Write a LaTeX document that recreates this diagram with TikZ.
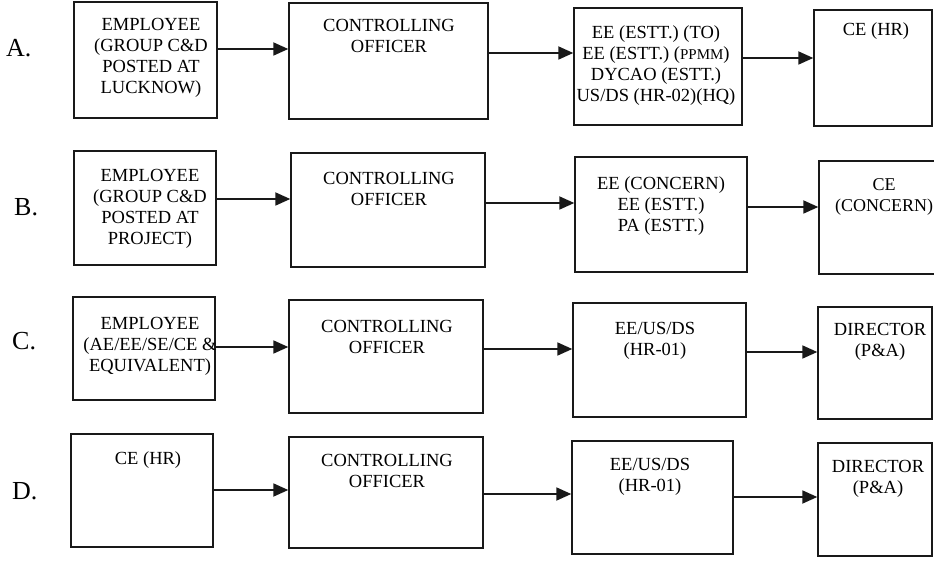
\documentclass[tikz,border=0pt]{standalone}
\usepackage{fontspec}
\setmainfont{Liberation Serif}
\usetikzlibrary{fit,arrows.meta}
\begin{document}
\begin{tikzpicture}[x=1pt,y=-1pt,
  box/.style={draw=black!90, line width=1.4pt, inner sep=0pt},
  txt/.style={align=center, inner sep=0pt, anchor=north, font=\fontsize{18.5}{21}\selectfont},
  lbl/.style={inner sep=0pt, anchor=base west, font=\fontsize{26}{26}\selectfont},
  arr/.style={line width=1.8pt, draw=black!90, -{Triangle[length=15pt,width=13pt]}}]
\useasboundingbox (0,0) rectangle (934,561);
\clip (0,0) rectangle (934,561);
\fill[white] (0,0) rectangle (934,561);
% row labels
\node[lbl] (la) at (6,57) {A.};
\node[lbl] (lb) at (14,216) {B.};
\node[lbl] (lc) at (12,349) {C.};
\node[lbl] (ld) at (12,499) {D.};
% row A
\node[box, fit={(74,2)(217,118)}] (A1) {};
\node[box, fit={(289,3)(488,119)}] (A2) {};
\node[box, fit={(574,8)(742,125)}] (A3) {};
\node[box, fit={(814,10)(932,126)}] (A4) {};
\node[txt] (tA1) at (151,18) {EMPLOYEE\\(GROUP C\&D\\POSTED AT\\LUCKNOW)};
\node[txt] (tA2) at (389,19) {CONTROLLING\\OFFICER};
\node[txt] (tA3) at (656,25) {EE (ESTT.) (TO)\\EE (ESTT.) ({\fontsize{15}{15}\selectfont PPMM})\\DYCAO (ESTT.)\\US/DS (HR-02)(HQ)};
\node[txt] (tA4) at (876,22) {CE (HR)};
% row B
\node[box, fit={(74,151)(216,265)}] (B1) {};
\node[box, fit={(291,153)(485,267)}] (B2) {};
\node[box, fit={(575,157)(747,272)}] (B3) {};
\node[box, fit={(819,161)(962,274)}] (B4) {};
\node[txt] (tB1) at (150,169) {EMPLOYEE\\(GROUP C\&D\\POSTED AT\\PROJECT)};
\node[txt] (tB2) at (389,172) {CONTROLLING\\OFFICER};
\node[txt] (tB3) at (661,176) {EE (CONCERN)\\EE (ESTT.)\\PA (ESTT.)};
\node[txt, font=\fontsize{18}{21}\selectfont] (tB4) at (884,178) {CE\\(CONCERN)};
% row C
\node[box, fit={(73,297)(215,400)}] (C1) {};
\node[box, fit={(289,300)(483,413)}] (C2) {};
\node[box, fit={(573,303)(746,417)}] (C3) {};
\node[box, fit={(818,307)(932,419)}] (C4) {};
\node[txt] (tC1) at (150,317) {EMPLOYEE\\(AE/EE/SE/CE \&\\EQUIVALENT)};
\node[txt] (tC2) at (387,320) {CONTROLLING\\OFFICER};
\node[txt] (tC3) at (655,322) {EE/US/DS\\(HR-01)};
\node[txt] (tC4) at (880,323) {DIRECTOR\\(P\&A)};
% row D
\node[box, fit={(71,434)(213,547)}] (D1) {};
\node[box, fit={(289,437)(483,548)}] (D2) {};
\node[box, fit={(572,441)(733,554)}] (D3) {};
\node[box, fit={(818,443)(932,556)}] (D4) {};
\node[txt] (tD1) at (148,451) {CE (HR)};
\node[txt] (tD2) at (387,454) {CONTROLLING\\OFFICER};
\node[txt] (tD3) at (650,458) {EE/US/DS\\(HR-01)};
\node[txt] (tD4) at (878,460) {DIRECTOR\\(P\&A)};
% arrow heights
\coordinate (ya1) at (0,49);  \coordinate (ya2) at (0,53);  \coordinate (ya3) at (0,58);
\coordinate (yb1) at (0,199); \coordinate (yb2) at (0,203); \coordinate (yb3) at (0,207);
\coordinate (yc1) at (0,347); \coordinate (yc2) at (0,349); \coordinate (yc3) at (0,352);
\coordinate (yd1) at (0,490); \coordinate (yd2) at (0,494); \coordinate (yd3) at (0,497);
% arrows
\draw[arr] (A1.east |- ya1) -- (A2.west |- ya1);
\draw[arr] (A2.east |- ya2) -- (A3.west |- ya2);
\draw[arr] (A3.east |- ya3) -- (A4.west |- ya3);
\draw[arr] (B1.east |- yb1) -- (B2.west |- yb1);
\draw[arr] (B2.east |- yb2) -- (B3.west |- yb2);
\draw[arr] (B3.east |- yb3) -- (B4.west |- yb3);
\draw[arr] (C1.east |- yc1) -- (C2.west |- yc1);
\draw[arr] (C2.east |- yc2) -- (C3.west |- yc2);
\draw[arr] (C3.east |- yc3) -- (C4.west |- yc3);
\draw[arr] (D1.east |- yd1) -- (D2.west |- yd1);
\draw[arr] (D2.east |- yd2) -- (D3.west |- yd2);
\draw[arr] (D3.east |- yd3) -- (D4.west |- yd3);
\end{tikzpicture}
\end{document}
